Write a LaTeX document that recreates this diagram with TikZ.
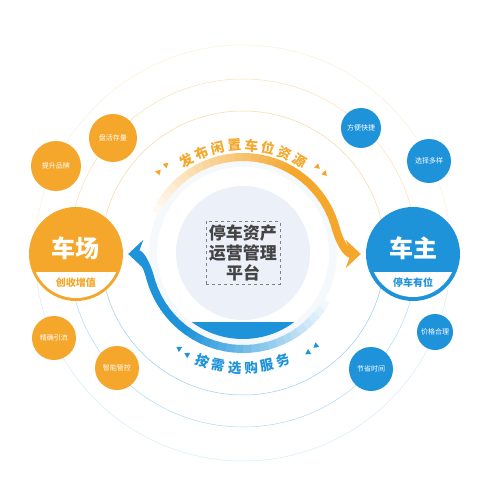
\documentclass[tikz,border=0pt]{standalone}
\usepackage{fontspec}
\newfontfamily\cjk{Noto Sans CJK SC}
\usetikzlibrary{arrows.meta,positioning}
\definecolor{porange}{RGB}{244,167,43}
\definecolor{pblue}{RGB}{30,147,218}
\definecolor{phub}{RGB}{236,241,249}
\definecolor{ptext}{RGB}{68,68,68}
\begin{document}
\begin{tikzpicture}[x=1pt,y=1pt]
\tikzstyle{dot}=[circle,inner sep=0pt,text=white,font=\cjk\fontsize{7}{8}\selectfont]
\tikzstyle{big}=[circle,inner sep=0pt,minimum size=94pt]
\tikzstyle{ring}=[line width=0.5pt]
\tikzstyle{arctop}=[inner sep=0pt,text=porange,font=\cjk\bfseries\fontsize{13.5}{15}\selectfont]
\tikzstyle{arcbot}=[inner sep=0pt,text=pblue,font=\cjk\bfseries\fontsize{13.5}{15}\selectfont]
\tikzstyle{title}=[inner sep=0pt,text=white,font=\cjk\bfseries\fontsize{24}{26}\selectfont]
\tikzstyle{sub}=[inner sep=0pt,font=\cjk\bfseries\fontsize{10}{12}\selectfont]
\fill[white] (-243,-237) rectangle (243,253);
\useasboundingbox (-243,-237) rectangle (243,253);
% rings
\foreach \r/\o in {142/45,174/35,208/18}{
  \draw[ring,porange!\o] (\r pt,0) arc[start angle=0,end angle=180,radius=\r pt];
  \draw[ring,pblue!\o] (-\r pt,0) arc[start angle=180,end angle=360,radius=\r pt];
}
% hub
\fill[phub!45] (0,0) circle (94pt);
\fill[white] (0,0) circle (86pt);
\fill[phub] (0,0) circle (67pt);
\begin{scope}
\clip (0,0) circle (86pt);
\fill[pblue] (-90,-69) rectangle (90,-90);
\end{scope}
\node[draw=gray,dashed,line width=0.8pt,text=ptext,align=center,inner sep=3pt,
  font=\cjk\bfseries\fontsize{17}{20}\selectfont] (hub) at (0,0) {停车资产\\运营管理\\平台};
% big nodes
\node[big,fill=porange] (yard) at (-167,-1) {};
\node[big,fill=pblue] (owner) at (170,-1) {};
\begin{scope}
\clip (yard.center) circle (44pt);
\fill[white] ([shift={(-50,-18)}]yard.center) rectangle ([shift={(50,-50)}]yard.center);
\end{scope}
\begin{scope}
\clip (owner.center) circle (43pt);
\fill[white] ([shift={(-50,-18)}]owner.center) rectangle ([shift={(50,-50)}]owner.center);
\end{scope}
\node[title] (yardt) at ([yshift=6pt]yard.center) {车场};
\node[sub,text=porange] (yards) at ([yshift=-29pt]yard.center) {创收增值};
\node[title] (ownert) at ([yshift=6pt]owner.center) {车主};
\node[sub,text=pblue] (owners) at ([yshift=-29pt]owner.center) {停车有位};
% small nodes
\foreach \n/\x/\y/\s/\c/\t in {y1/-130/115/48/porange/盘活存量,y2/-187/87/50/porange/提升品牌,
  y3/-189/-85/44/porange/精确引流,y4/-126/-115/44/porange/智能管控,
  o1/118/125/40/pblue/方便快捷,o2/186/92/44/pblue/选择多样,
  o3/192/-79/36/pblue/价格合理,o4/128/-116/44/pblue/节省时间}
  \node[dot,fill=\c,minimum size=\s pt] (\n) at (\x,\y) {\t};
% arrows
\coordinate (otip) at ([xshift=-5pt]owner.west);
\coordinate (ytip) at ([xshift=5pt]yard.east);
\foreach \i in {0,...,27}{
  \pgfmathsetmacro\a{155-\i*5}
  \pgfmathsetmacro\p{min(100,6+\i*5)}
  \draw[porange!\p,line width=8pt] (\a:96pt) arc[start angle=\a,end angle=\a-5.6,radius=96pt];
}
\draw[porange,line width=8pt,-{Stealth[length=15pt,width=28pt,inset=5pt]}] (15:96pt) to[out=-75,in=180] (otip);
\foreach \i in {0,...,26}{
  \pgfmathsetmacro\a{-30-\i*5}
  \pgfmathsetmacro\p{min(100,6+\i*5)}
  \draw[pblue!\p,line width=8pt] (\a:96pt) arc[start angle=\a,end angle=\a-5.6,radius=96pt];
}
\draw[pblue,line width=8pt,-{Stealth[length=15pt,width=28pt,inset=5pt]}] (195:96pt) to[out=105,in=0] (ytip);
% arc texts
\foreach \c [count=\k] in {发,布,闲,置,车,位,资,源}{
  \pgfmathsetmacro\a{121.5-(\k-1)*9}
  \node[arctop,rotate=\a-90] (t\k) at (\a:108pt) {\c};
}
\foreach \c [count=\k] in {按,需,选,购,服,务}{
  \pgfmathsetmacro\a{249.5+(\k-1)*8.2}
  \node[arcbot,rotate=\a+90] (b\k) at (\a:115pt) {\c};
}
% chevrons
\foreach \a/\r/\c in {136/117/porange,131/117/porange,49/114/porange,44/114/porange,
  236/115/pblue,241/116/pblue,303/119/pblue,308/118/pblue}{
  \begin{scope}[shift={(\a:\r pt)},rotate=\a-90]
  \fill[\c] (2.8,0) -- (-2.2,3) -- (-2.2,-3) -- cycle;
  \end{scope}
}
\end{tikzpicture}
\end{document}
